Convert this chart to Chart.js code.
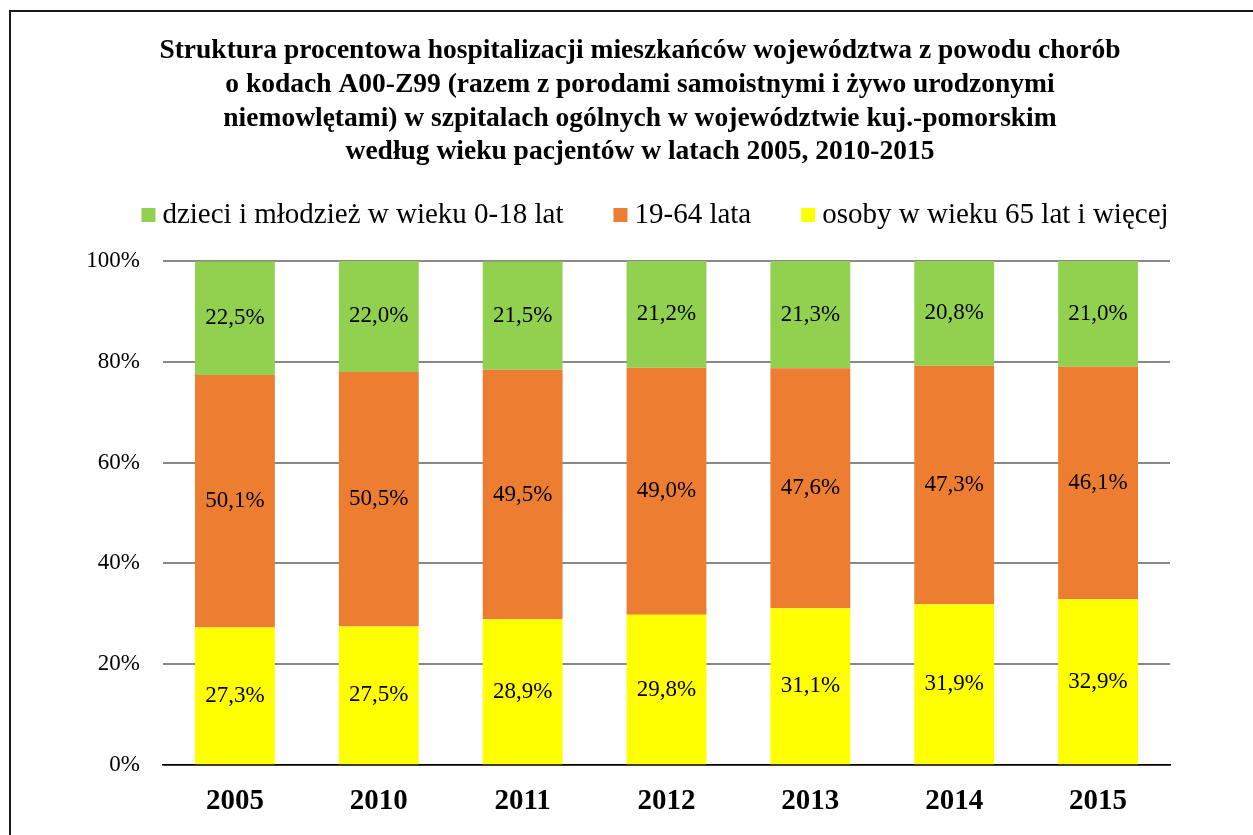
<!DOCTYPE html>
<html>
<head>
<meta charset="utf-8">
<script src="https://cdn.jsdelivr.net/npm/chart.js@4/dist/chart.umd.min.js"></script>
<style>
  html, body { margin: 0; padding: 0; background: #fff; overflow: hidden; }
  #wrap { position: relative; width: 1253px; height: 835px; }
  #frame { position: absolute; left: 9px; top: 10px; width: 1300px; height: 900px; border: 2px solid #1a1a1a; box-sizing: border-box; pointer-events: none; }
</style>
</head>
<body>
<div id="wrap">
  <canvas id="chart1"></canvas>
  <div id="frame"></div>
</div>
<script>
//data
const years = ['2005', '2010', '2011', '2012', '2013', '2014', '2015'];
const kids = [22.5, 22.0, 21.5, 21.2, 21.3, 20.8, 21.0];
const adults = [50.1, 50.5, 49.5, 49.0, 47.6, 47.3, 46.1];
const seniors = [27.3, 27.5, 28.9, 29.8, 31.1, 31.9, 32.9];
const yTicks = [0, 20, 40, 60, 80, 100];
const titleLines = [
  'Struktura procentowa hospitalizacji mieszkańców województwa z powodu chorób',
  'o kodach A00-Z99 (razem z porodami samoistnymi i żywo urodzonymi',
  'niemowlętami) w szpitalach ogólnych w województwie kuj.-pomorskim',
  'według wieku pacjentów w latach 2005, 2010-2015'
];

const serif = '"Liberation Serif", "Times New Roman", serif';

//title and legend on top, legend goes from the last dataset to the first
const header = {
  id: 'header',
  afterDraw(chart) {
    const ctx = chart.ctx;
    ctx.save();
    ctx.fillStyle = '#000';
    ctx.textBaseline = 'middle';
    ctx.textAlign = 'center';
    ctx.font = 'bold 27.5px ' + serif;
    titleLines.forEach(function (line, i) {
      ctx.fillText(line, 640, 51 + i * 33.7);
    });
    ctx.font = '29px ' + serif;
    ctx.textAlign = 'left';
    const items = chart.data.datasets.slice().reverse();
    const box = 14, gapText = 7, gapItem = 50;
    let total = 0;
    items.forEach(function (ds, i) {
      total += box + gapText + ctx.measureText(ds.label).width + (i < items.length - 1 ? gapItem : 0);
    });
    let x = 655 - total / 2;
    const y = 215;
    items.forEach(function (ds) {
      ctx.fillStyle = ds.backgroundColor;
      ctx.fillRect(x, y - box / 2, box, box);
      x += box + gapText;
      ctx.fillStyle = '#000';
      ctx.fillText(ds.label, x, y);
      x += ctx.measureText(ds.label).width + gapItem;
    });
    ctx.restore();
  }
};

//labels in the middle of each segment
const barLabels = {
  id: 'barLabels',
  afterDatasetsDraw(chart) {
    const ctx = chart.ctx;
    ctx.save();
    ctx.font = '23px ' + serif;
    ctx.fillStyle = '#000';
    ctx.textAlign = 'center';
    ctx.textBaseline = 'middle';
    chart.data.datasets.forEach(function (ds, i) {
      chart.getDatasetMeta(i).data.forEach(function (bar, j) {
        const p = bar.getProps(['x', 'y', 'base'], true);
        ctx.fillText(ds.data[j].toFixed(1).replace('.', ',') + '%', p.x, (p.y + p.base) / 2);
      });
    });
    ctx.restore();
  }
};

let ctx = document.getElementById('chart1').getContext('2d');
let chart = new Chart(ctx, {
  type: 'bar',
  data: {
    labels: years,
    datasets: [
      { label: 'osoby w wieku 65 lat i więcej', data: seniors, backgroundColor: '#FFFF00' },
      { label: '19-64 lata', data: adults, backgroundColor: '#ED7D31' },
      { label: 'dzieci i młodzież w wieku 0-18 lat', data: kids, backgroundColor: '#92D050' }
    ]
  },
  options: {
    responsive: true,
    maintainAspectRatio: false,
    animation: false,
    layout: { padding: { left: 0, right: 83, top: 261, bottom: 0 } },
    datasets: {
      bar: { barPercentage: 0.555, categoryPercentage: 1, borderWidth: 0 }
    },
    scales: {
      x: {
        stacked: true,
        grid: { display: false },
        border: { display: true, color: '#000', width: 1.5 },
        ticks: { color: '#000', padding: 11, font: { family: serif, size: 29, weight: 'bold' } },
        afterFit: function (scale) { scale.height = 70; }
      },
      y: {
        stacked: true,
        min: 0,
        max: 100,
        afterBuildTicks: function (scale) { scale.ticks = yTicks.map(v => ({ value: v })); },
        grid: {
          drawTicks: false,
          color: c => c.tick && c.tick.value === 0 ? '#000' : '#888888',
          lineWidth: c => c.tick && c.tick.value === 0 ? 1.5 : 2
        },
        border: { display: false },
        ticks: {
          color: '#000',
          padding: 23,
          font: { family: serif, size: 23 },
          callback: v => v + '%'
        },
        afterFit: function (scale) { scale.width = 163; }
      }
    },
    plugins: {
      title: { display: false },
      legend: { display: false },
      tooltip: { enabled: false }
    }
  },
  plugins: [barLabels, header]
});
</script>
</body>
</html>
